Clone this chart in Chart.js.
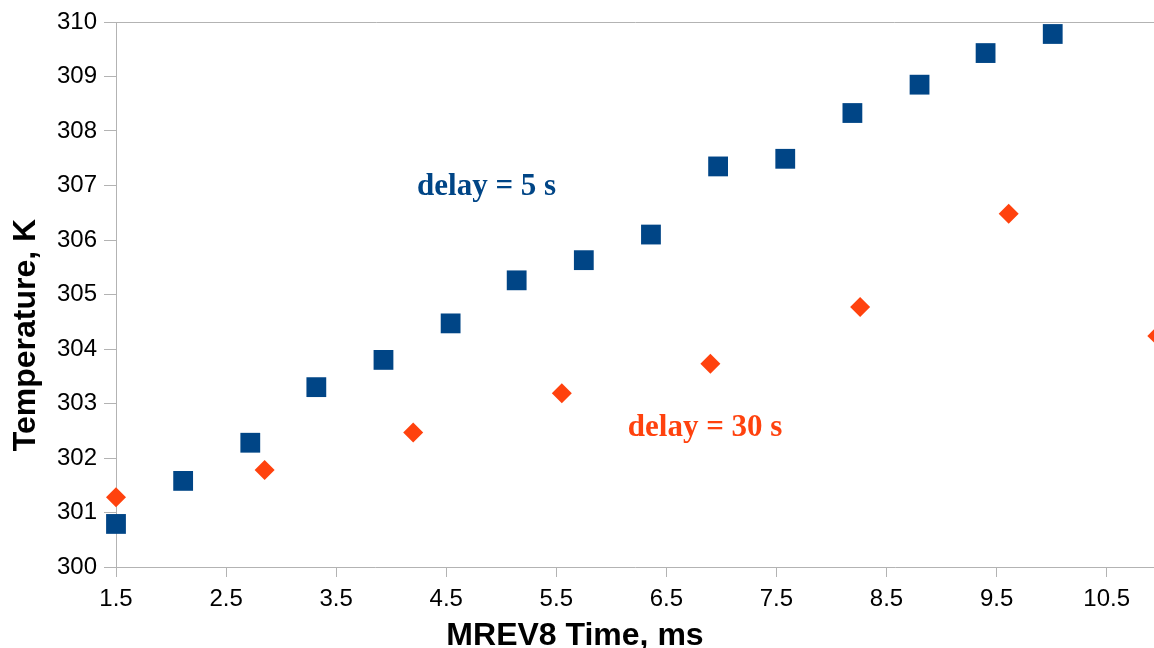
<!DOCTYPE html>
<html>
<head>
<meta charset="utf-8">
<script src="https://cdn.jsdelivr.net/npm/chart.js@4/dist/chart.umd.min.js"></script>
<style>
  html, body { margin: 0; padding: 0; background: #ffffff; overflow: hidden; }
  canvas { display: block; }
</style>
</head>
<body>
<canvas id="chart" width="1154" height="648"></canvas>
<script>
// ---- data ----
const xTickValues = [1.5, 2.5, 3.5, 4.5, 5.5, 6.5, 7.5, 8.5, 9.5, 10.5];
const yTickValues = [300, 301, 302, 303, 304, 305, 306, 307, 308, 309, 310];

const delay5Time = [1.5, 2.11, 2.72, 3.32, 3.93, 4.54, 5.14, 5.75, 6.36, 6.97, 7.58, 8.19, 8.8, 9.4, 10.01];
const delay5Temp = [300.79, 301.58, 302.28, 303.30, 303.80, 304.47, 305.26, 305.63, 306.10, 307.35, 307.49, 308.33, 308.85, 309.43, 309.78];

const delay30Time = [1.5, 2.85, 4.2, 5.55, 6.9, 8.26, 9.61, 10.96];
const delay30Temp = [301.28, 301.78, 302.47, 303.19, 303.73, 304.77, 306.48, 304.24];

const seriesNames = ['delay = 5 s', 'delay = 30 s'];
const xAxisTitle = 'MREV8 Time, ms';
const yAxisTitle = 'Temperature, K';

// ---- styling / layout ----
const BLUE = '#004586';
const ORANGE = '#ff420e';
const AXIS = '#b3b3b3';
const X_MIN = 1.5, X_MAX = 10.93;
const Y_MIN = 300, Y_MAX = 310;

// annotation anchors (data coordinates, left/baseline of text)
const annotations = [
  { text: seriesNames[0], color: BLUE,   at: [4.235, 306.83] },
  { text: seriesNames[1], color: ORANGE, at: [6.15, 302.40] }
];

const zip = (xs, ys) => xs.map((x, i) => ({ x: x, y: ys[i] }));

const textPlugin = {
  id: 'textPlugin',
  afterDraw(chart) {
    const { ctx, scales } = chart;
    ctx.save();
    ctx.textAlign = 'left';
    ctx.textBaseline = 'alphabetic';
    ctx.font = 'bold 31px "Liberation Serif", "Times New Roman", serif';
    annotations.forEach(a => {
      ctx.fillStyle = a.color;
      ctx.fillText(a.text, scales.x.getPixelForValue(a.at[0]), scales.y.getPixelForValue(a.at[1]));
    });
    ctx.fillStyle = '#000000';
    ctx.font = 'bold 32px "Liberation Sans", Arial, sans-serif';
    ctx.textAlign = 'center';
    ctx.fillText(xAxisTitle, 575, 645);
    ctx.translate(35, 335);
    ctx.rotate(-Math.PI / 2);
    ctx.fillText(yAxisTitle, 0, 0);
    ctx.restore();
  }
};

const tickFont = { family: '"Liberation Sans", Arial, sans-serif', size: 24 };

new Chart(document.getElementById('chart'), {
  type: 'scatter',
  data: {
    datasets: [
      {
        label: seriesNames[0],
        data: zip(delay5Time, delay5Temp),
        pointStyle: 'rect',
        pointRadius: 14,
        pointHoverRadius: 14,
        pointBorderWidth: 0,
        backgroundColor: BLUE,
        borderColor: BLUE,
        clip: false
      },
      {
        label: seriesNames[1],
        data: zip(delay30Time, delay30Temp),
        pointStyle: 'rectRot',
        pointRadius: 10,
        pointHoverRadius: 10,
        pointBorderWidth: 0,
        backgroundColor: ORANGE,
        borderColor: ORANGE,
        clip: false
      }
    ]
  },
  options: {
    responsive: false,
    animation: false,
    devicePixelRatio: 1,
    layout: { autoPadding: false, padding: { top: 22, right: 0, bottom: 0, left: 0 } },
    plugins: {
      legend: { display: false },
      tooltip: { enabled: false }
    },
    scales: {
      x: {
        type: 'linear',
        min: X_MIN,
        max: X_MAX,
        afterBuildTicks: s => { s.ticks = xTickValues.map(v => ({ value: v })); },
        afterFit: s => { s.height = 81; s.paddingRight = 0; s.paddingLeft = 0; },
        ticks: {
          font: tickFont,
          color: '#000000',
          padding: 8,
          maxRotation: 0,
          autoSkip: false,
          callback: v => String(v)
        },
        grid: { drawOnChartArea: false, tickLength: 10, color: AXIS, tickColor: AXIS },
        border: { display: true, color: AXIS, width: 1 }
      },
      y: {
        type: 'linear',
        min: Y_MIN,
        max: Y_MAX,
        afterBuildTicks: s => { s.ticks = yTickValues.map(v => ({ value: v })); },
        afterFit: s => { s.width = 116; },
        ticks: {
          font: tickFont,
          color: '#000000',
          padding: 7,
          autoSkip: false,
          callback: v => String(v)
        },
        grid: {
          drawOnChartArea: true,
          tickLength: 12,
          color: c => (c.tick && c.tick.value === Y_MAX) ? AXIS : 'rgba(0,0,0,0)',
          tickColor: AXIS
        },
        border: { display: true, color: AXIS, width: 1 }
      }
    }
  },
  plugins: [textPlugin]
});
</script>
</body>
</html>
